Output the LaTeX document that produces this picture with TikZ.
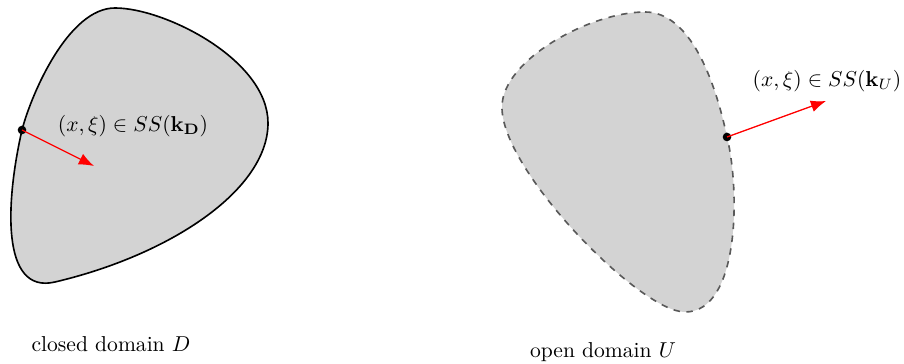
\documentclass[tikz,border=0pt]{standalone}
\usepackage{amsmath,amssymb,bm}
\usepackage{tikz}
\usetikzlibrary{positioning,arrows.meta,calc}
\definecolor{domgray}{HTML}{D3D3D3}

\begin{document}
\begin{tikzpicture}[x=0.0163cm,y=-0.0163cm,
  dom/.style={fill=domgray,line width=0.75pt},
  covec/.style={red,semithick,-{Latex[length=7pt,width=5.5pt]}},
  bpt/.style={circle,fill=black,inner sep=0pt,minimum size=4pt}]
\useasboundingbox (0,0) rectangle (904,364);
% closed domain D: solid boundary, covector pointing inward
\draw[dom,draw=black] (22,130) .. controls (31,95) and (68,8) .. (115,8)
  .. controls (165,8) and (268,60) .. (268,123)
  .. controls (268,190) and (170,255) .. (55,282)
  .. controls (0,295) and (6,200) .. cycle;
\node[bpt] (pD) at (22,130) {};
\coordinate (tD) at (94,166);
\draw[covec] (pD.center) -- (tD);
\node (lD) at (133,126) {$(x,\xi)\in SS(\mathbf{k_D})$};
% open domain U: dashed boundary, covector pointing outward
\draw[dom,draw=black!65,dashed] (645,12) .. controls (690,12) and (715,80) .. (727,137)
  .. controls (740,190) and (740,312) .. (685,312)
  .. controls (640,312) and (501,170) .. (502,107)
  .. controls (502,60) and (590,12) .. cycle;
\node[bpt] (pU) at (727,137) {};
\coordinate (tU) at (826,101);
\draw[covec] (pU.center) -- (tU);
\node (lU) at (827,81) {$(x,\xi)\in SS(\mathbf{k}_U)$};
% captions
\node (cD) at (111,344) {closed domain $D$};
\node (cU) at (603,352) {open domain $U$};
\end{tikzpicture}
\end{document}
